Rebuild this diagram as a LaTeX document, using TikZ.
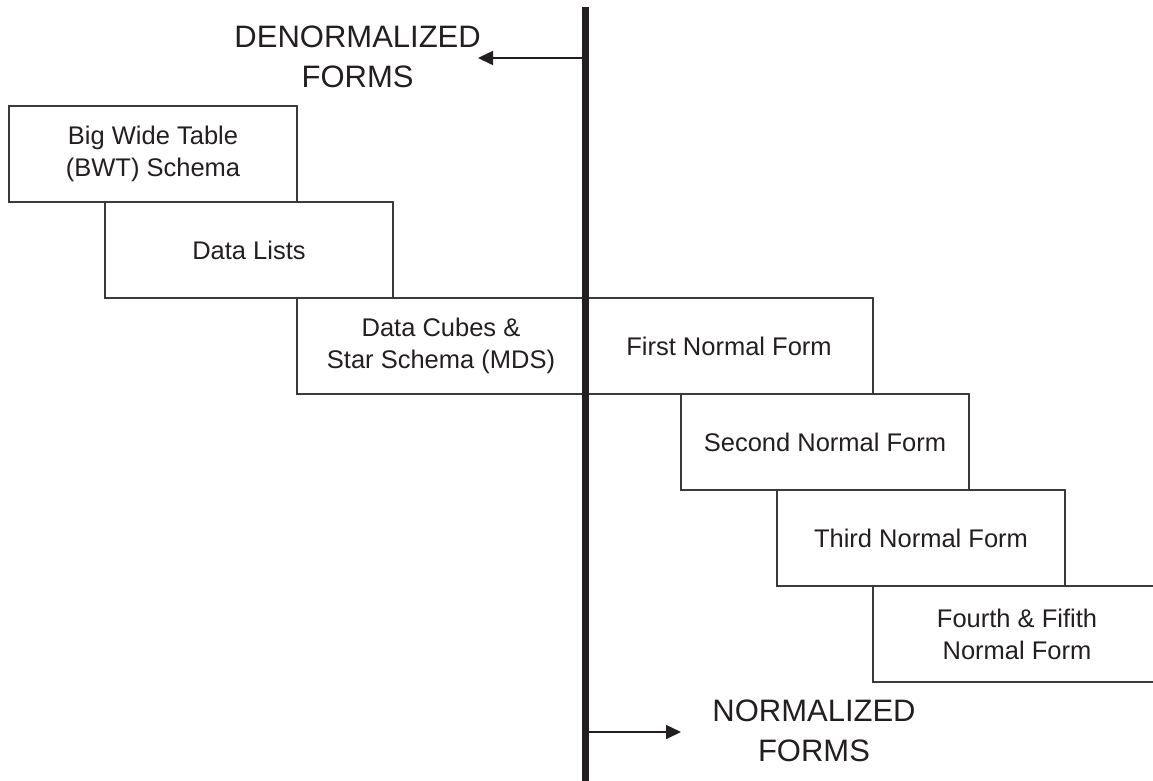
\documentclass[tikz,border=0pt]{standalone}
\usepackage{fontspec}
\setmainfont{Liberation Sans}
\usetikzlibrary{arrows.meta, positioning}

\definecolor{inkblack}{HTML}{231F20}
\definecolor{boxgray}{HTML}{3A3A3A}

\begin{document}
\begin{tikzpicture}[x=1pt, y=-1pt,
    formbox/.style={draw=boxgray, line width=1.2pt, minimum width=288pt, minimum height=96pt,
      inner sep=0pt, align=center, text=inkblack, font=\fontsize{25.5}{32}\selectfont},
    sidelabel/.style={inner sep=0pt, align=center, text=inkblack, font=\fontsize{31}{40}\selectfont},
    flowarrow/.style={draw=inkblack, line width=1.6pt, -{Triangle[length=15pt, width=14pt]}}]

        % Page frame
        \clip (0,0) rectangle (1153,780);

        % Staircase of forms
        \foreach \name/\cx/\cy/\txt in {
            bwt/153/154/{Big Wide Table\\(BWT) Schema},
            lists/249/250/{Data Lists},
            cubes/441/346/{Data Cubes \&\\Star Schema (MDS)},
            nfone/729/346/{First Normal Form},
            nftwo/825/442/{Second Normal Form},
            nfthree/921/538/{Third Normal Form},
            nffour/1017/634/{Fourth \& Fifith\\Normal Form}} {
            \node[formbox] (\name) at (\cx,\cy) {\txt};
        }

        % Dividing bar
        \coordinate (bartop) at (585,7);
        \coordinate (barbot) at (585,784);
        \draw[inkblack, line width=7pt] (bartop) -- (barbot);

        % Direction labels
        \node[sidelabel, anchor=east] (denorm) at (481,57) {DENORMALIZED\\FORMS};
        \node[sidelabel] (norm) at (814,731) {NORMALIZED\\FORMS};

        \coordinate (dstart) at (585,58);
        \coordinate (dtip) at (478,58);
        \coordinate (nstart) at (585,732);
        \coordinate (ntip) at (681,732);
        \draw[flowarrow] (dstart) -- (dtip);
        \draw[flowarrow] (nstart) -- (ntip);
      \end{tikzpicture}
\end{document}
